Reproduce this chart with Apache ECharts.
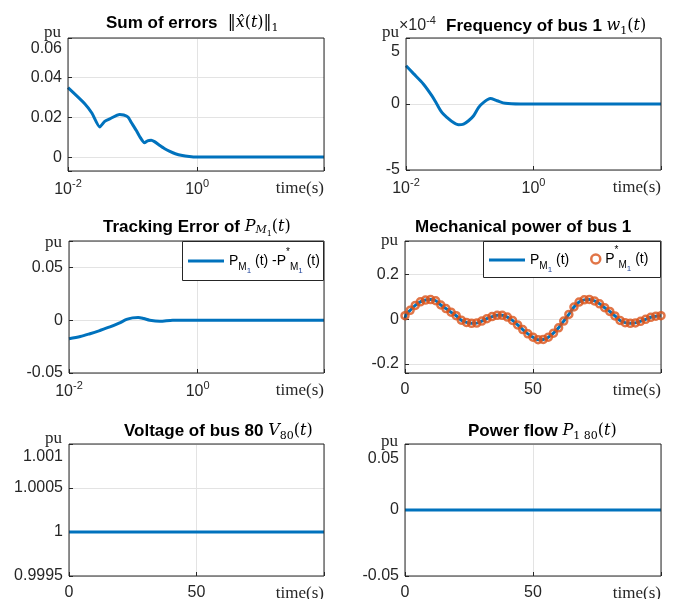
<!DOCTYPE html>
<html>
<head>
<meta charset="utf-8">
<script src="https://cdn.jsdelivr.net/npm/echarts@6/dist/echarts.min.js"></script>
<style>
  html, body { margin: 0; padding: 0; background: #fff; }
  #main { width: 673px; height: 599px; }
</style>
</head>
<body>
<div id="main"></div>
<script>
// 误差之和 ||x^(t)||_1 (对数时间轴)
var errTime = [0.01, 0.0183, 0.0234, 0.031, 0.037, 0.0443, 0.0631, 0.0728, 0.0846, 0.0966, 0.1137, 0.128, 0.153, 0.170, 0.194, 0.218, 0.26, 0.31, 0.37, 0.459, 0.59, 0.753, 0.95, 2, 10, 92]
var errValue = [0.035, 0.0268, 0.0222, 0.0152, 0.018, 0.0193, 0.0215, 0.0212, 0.0202, 0.0172, 0.0135, 0.0105, 0.0072, 0.0082, 0.0085, 0.0078, 0.006, 0.0043, 0.003, 0.0017, 0.0008, 0.0003, 0, 0, 0, 0]

// 母线1频率 w1(t), 单位 1e-4
var freqTime = [0.01, 0.013, 0.0187, 0.0254, 0.0304, 0.0365, 0.0438, 0.0525, 0.0667, 0.0799, 0.0957, 0.115, 0.138, 0.165, 0.21, 0.268, 0.362, 0.624, 1, 100]
var freqValue = [2.9, 2.32, 1.52, 0.63, 0.0, -0.64, -1.02, -1.32, -1.57, -1.52, -1.27, -0.89, -0.26, 0.12, 0.42, 0.25, 0.05, 0, 0, 0]

// 跟踪误差 P_M1 - P*_M1
var trackTime = [0.01, 0.015, 0.0212, 0.03, 0.0433, 0.06, 0.0785, 0.097, 0.119, 0.145, 0.18, 0.258, 0.41, 1, 92]
var trackValue = [-0.0176, -0.0155, -0.0128, -0.0098, -0.0064, -0.0028, 0.0007, 0.0022, 0.0026, 0.0016, 0.0, -0.001, 0, 0, 0]

// 机械功率 参考值 P*_M1 (圆圈)
var mechTime = [0, 2, 4, 6, 8, 10, 12, 14, 16, 18, 20, 22, 24, 26, 28, 30, 32, 34, 36, 38, 40, 42, 44, 46, 48, 50, 52, 54, 56, 58, 60, 62, 64, 66, 68, 70, 72, 74, 76, 78, 80, 82, 84, 86, 88, 90, 92, 94, 96, 98, 100]
var mechRef = [0.016, 0.040, 0.062, 0.078, 0.086, 0.088, 0.083, 0.064, 0.048, 0.032, 0.016, -0.004, -0.014, -0.018, -0.017, -0.008, 0.003, 0.012, 0.018, 0.018, 0.010, -0.005, -0.025, -0.046, -0.065, -0.080, -0.091, -0.090, -0.080, -0.062, -0.038, -0.008, 0.022, 0.055, 0.077, 0.087, 0.089, 0.082, 0.069, 0.052, 0.035, 0.015, -0.005, -0.015, -0.018, -0.016, -0.009, 0.000, 0.009, 0.014, 0.016]
// 机械功率 实际值 P_M1 (实线)
var mechActTime = [0, 0.4, 2, 4, 6, 8, 10, 12, 14, 16, 18, 20, 22, 24, 26, 28, 30, 32, 34, 36, 38, 40, 42, 44, 46, 48, 50, 52, 54, 56, 58, 60, 62, 64, 66, 68, 70, 72, 74, 76, 78, 80, 82, 84, 86, 88, 90, 92, 94, 96, 98, 100]
var mechAct = [-0.004, 0.020, 0.040, 0.062, 0.078, 0.086, 0.088, 0.083, 0.064, 0.048, 0.032, 0.016, -0.004, -0.014, -0.018, -0.017, -0.008, 0.003, 0.012, 0.018, 0.018, 0.010, -0.005, -0.025, -0.046, -0.065, -0.080, -0.091, -0.090, -0.080, -0.062, -0.038, -0.008, 0.022, 0.055, 0.077, 0.087, 0.089, 0.082, 0.069, 0.052, 0.035, 0.015, -0.005, -0.015, -0.018, -0.016, -0.009, 0.000, 0.009, 0.014, 0.016]

// 母线80电压 / 潮流
var voltTime = [0, 100]
var voltValue = [1, 1]
var flowTime = [0, 100]
var flowValue = [0, 0]

// 刻度标签
var logTicks = [0.01, 1]
var linTicks = [0, 50]
var errTicks = [0, 0.02, 0.04, 0.06]
var freqTicks = [-5, 0, 5]
var trackTicks = [-0.05, 0, 0.05]
var mechTicks = [-0.2, 0, 0.2]
var voltTicks = [0.9995, 1, 1.0005, 1.001]
var flowTicks = [-0.05, 0, 0.05]

var SANS = 'Liberation Sans'
var SERIF = 'Liberation Serif'
var MATH = 'DejaVu Serif'
var BLUE = '#0072BD'
var ORANGE = '#D95319'
var INK = '#262626'

function pairs(xs, ys) {
  return xs.map(function (x, i) { return [x, ys[i]] })
}

// 只显示列表中的刻度, 顶部标签下移
function tickFmt(ticks, lowTop) {
  return function (v) {
    for (var i = 0; i < ticks.length; i++) {
      if (Math.abs(v - ticks[i]) < 1e-9) {
        var s = String(ticks[i])
        return (lowTop && i === ticks.length - 1) ? '{low|' + s + '}' : s
      }
    }
    return ''
  }
}

function logFmt(ticks) {
  return function (v) {
    for (var i = 0; i < ticks.length; i++) {
      if (Math.abs(Math.log10(v) - Math.log10(ticks[i])) < 1e-6) {
        return '{b|10}{s|' + Math.round(Math.log10(ticks[i])) + '}'
      }
    }
    return ''
  }
}

var splitStyle = { show: true, lineStyle: { color: '#e3e3e3', width: 1 } }
var tickStyle = { show: true, inside: true, length: 4, lineStyle: { color: INK } }
var noLine = { show: false, onZero: false }
var timeName = {
  name: 'time(s)',
  nameLocation: 'end',
  nameGap: 0,
  nameMoveOverlap: false,
  nameTextStyle: { fontFamily: SERIF, fontSize: 17, color: INK, align: 'right', verticalAlign: 'top', padding: [9, 0, 0, 0] }
}

function xLog(grid, max) {
  return Object.assign({
    gridIndex: grid, type: 'log', logBase: 100, min: 0.01, max: max,
    axisLine: noLine, axisTick: tickStyle, splitLine: splitStyle,
    axisLabel: {
      formatter: logFmt(logTicks), margin: 7, color: INK,
      rich: {
        b: { fontFamily: SANS, fontSize: 16, color: INK, lineHeight: 24 },
        s: { fontFamily: SANS, fontSize: 11, color: INK, lineHeight: 12, verticalAlign: 'top' }
      }
    }
  }, timeName)
}

function xLin(grid) {
  return Object.assign({
    gridIndex: grid, type: 'value', min: 0, max: 100, interval: 50,
    axisLine: noLine, axisTick: tickStyle, splitLine: splitStyle,
    axisLabel: { formatter: tickFmt(linTicks), margin: 9, color: INK, fontFamily: SANS, fontSize: 16 }
  }, timeName)
}

function yAx(grid, opt, ticks, lowPad, puGap) {
  return Object.assign({
    gridIndex: grid, type: 'value',
    name: 'pu', nameLocation: 'end', nameGap: puGap,
    nameTextStyle: { fontFamily: SERIF, fontSize: 17, color: INK, align: 'right', verticalAlign: 'middle', padding: [0, 7, 0, 0] },
    axisLine: noLine, axisTick: tickStyle, splitLine: splitStyle,
    axisLabel: {
      formatter: tickFmt(ticks, lowPad > 0), margin: 6, color: INK, fontFamily: SANS, fontSize: 16,
      rich: { low: { fontFamily: SANS, fontSize: 16, color: INK, padding: [lowPad, 0, 0, 0] } }
    }
  }, opt)
}

function lineSeries(name, x, y, data, smooth) {
  return {
    name: name, type: 'line', xAxisIndex: x, yAxisIndex: y, data: data,
    symbol: 'none', smooth: smooth, lineStyle: { color: BLUE, width: 3 }, itemStyle: { color: BLUE },
    z: 2
  }
}

var titleRich = {
  b: { fontFamily: SANS, fontWeight: 'bold', fontSize: 17, color: '#000', lineHeight: 22 },
  r: { fontFamily: MATH, fontWeight: 'normal', fontSize: 16, color: '#000', lineHeight: 22 },
  i: { fontFamily: MATH, fontWeight: 'normal', fontStyle: 'italic', fontSize: 16, color: '#000', lineHeight: 22 },
  s: { fontFamily: MATH, fontWeight: 'normal', fontSize: 11, color: '#000', lineHeight: 12, verticalAlign: 'bottom' },
  si: { fontFamily: MATH, fontWeight: 'normal', fontStyle: 'italic', fontSize: 11, color: '#000', lineHeight: 14, verticalAlign: 'bottom', padding: [0, 0, 2, 0] },
  ss: { fontFamily: MATH, fontWeight: 'normal', fontSize: 8, color: '#000', lineHeight: 9, verticalAlign: 'bottom' },
  e: { fontFamily: SANS, fontWeight: 'normal', fontSize: 16, color: INK, lineHeight: 22 },
  es: { fontFamily: SANS, fontWeight: 'normal', fontSize: 11, color: INK, lineHeight: 11, verticalAlign: 'top' }
}

function title(text, left, top) {
  return { text: text, left: left, top: top, padding: 0, textStyle: { fontWeight: 'normal', rich: titleRich } }
}

var legendRich = {
  n: { fontFamily: SANS, fontSize: 14, color: '#000', lineHeight: 28 },
  sb: { fontFamily: SANS, fontSize: 10, color: '#000', lineHeight: 10, verticalAlign: 'bottom', padding: [0, 0, 3, 0] },
  sb1: { fontFamily: SANS, fontSize: 8, color: '#23479c', lineHeight: 8, verticalAlign: 'bottom' },
  sp: { fontFamily: SANS, fontSize: 10, color: '#000', lineHeight: 10, verticalAlign: 'top' }
}
var legendText = {
  'P_M1(t) - P*_M1(t)': '{n|P}{sb|M}{sb1|1}{n| (t) -P}{sp|*}{sb|M}{sb1|1}{n| (t)}',
  'P_M1(t)': '{n|P}{sb|M}{sb1|1}{n| (t)}',
  'P*_M1(t)': '{n|P}{sp|*}{sb|M}{sb1|1}{n| (t)}'
}
function legend(name, left, top, extra) {
  return Object.assign({
    data: [name], left: left, top: top, padding: 0, selectedMode: false, z: 20,
    icon: 'rect', itemWidth: 36, itemHeight: 3, itemGap: 0,
    formatter: function (n) { return legendText[n] },
    textStyle: { rich: legendRich }
  }, extra || {})
}

var chart = echarts.init(document.getElementById('main'), null, { renderer: 'canvas' })

var gridBase = { show: true, z: 3, borderColor: INK, borderWidth: 1, backgroundColor: 'transparent', containLabel: false, outerBoundsMode: 'none' }

var option = {
  animation: false,
  backgroundColor: '#fff',
  title: [
    title('{b|Sum of errors}{r|  ‖}{i|x̂}{r|(}{i|t}{r|)‖}{s|1}', 106, 12),
    title('{e|×10}{es|-4}', 399, 15),
    title('{b|Frequency of bus 1 }{i|w}{s|1}{r|(}{i|t}{r|)}', 446, 15),
    title('{b|Tracking Error of }{i|P}{si|M}{ss|1}{r|(}{i|t}{r|)}', 103, 216),
    title('{b|Mechanical power of bus 1}', 415, 216),
    title('{b|Voltage of bus 80 }{i|V}{s|80}{r|(}{i|t}{r|)}', 124, 420),
    title('{b|Power flow }{i|P}{s|1 80}{r|(}{i|t}{r|)}', 468, 420)
  ],
  grid: [
    Object.assign({ left: 68, top: 38, width: 256, height: 133 }, gridBase),
    Object.assign({ left: 406, top: 38, width: 255, height: 132 }, gridBase),
    Object.assign({ left: 69, top: 241, width: 255, height: 132 }, gridBase),
    Object.assign({ left: 405, top: 241, width: 256, height: 132 }, gridBase),
    Object.assign({ left: 69, top: 444, width: 255, height: 132 }, gridBase),
    Object.assign({ left: 405, top: 444, width: 256, height: 132 }, gridBase)
  ],
  xAxis: [
    xLog(0, 92),
    xLog(1, 100),
    xLog(2, 92),
    xLin(3),
    xLin(4),
    xLin(5)
  ],
  yAxis: [
    yAx(0, { min: -0.007, max: 0.06, minInterval: 0.02, maxInterval: 0.02 }, errTicks, 22, 5),
    yAx(1, { min: -5, max: 5, interval: 5 }, freqTicks, 28, 5),
    yAx(2, { min: -0.05, max: 0.075, interval: 0.05 }, trackTicks, 0, -2),
    yAx(3, { min: -0.24, max: 0.35, minInterval: 0.2, maxInterval: 0.2 }, mechTicks, 0, 0),
    yAx(4, { min: 0.9995, max: 1.001, interval: 0.0005 }, voltTicks, 26, 5),
    yAx(5, { min: -0.05, max: 0.05, interval: 0.05 }, flowTicks, 30, 2)
  ],
  legend: [
    legend('P_M1(t) - P*_M1(t)', 188, 247),
    legend('P_M1(t)', 489, 253),
    legend('P*_M1(t)', 590, 245, {
      icon: 'circle', itemWidth: 9, itemHeight: 9,
      itemStyle: { color: 'rgba(0,0,0,0)', borderColor: ORANGE, borderWidth: 2.5 }
    })
  ],
  graphic: [
    { type: 'rect', z: 10, shape: { x: 182.5, y: 241.5, width: 141, height: 39 }, style: { fill: '#fff', stroke: INK, lineWidth: 1 } },
    { type: 'rect', z: 10, shape: { x: 483.5, y: 241.5, width: 177, height: 36 }, style: { fill: '#fff', stroke: INK, lineWidth: 1 } }
  ],
  series: [
    lineSeries('sum of errors', 0, 0, pairs(errTime, errValue), 0.2),
    lineSeries('w1', 1, 1, pairs(freqTime, freqValue), 0.3),
    lineSeries('P_M1(t) - P*_M1(t)', 2, 2, pairs(trackTime, trackValue), 0.3),
    lineSeries('P_M1(t)', 3, 3, pairs(mechActTime, mechAct), 0.3),
    {
      name: 'P*_M1(t)', type: 'scatter', xAxisIndex: 3, yAxisIndex: 3,
      data: pairs(mechTime, mechRef),
      symbol: 'circle', symbolSize: 7, z: 3,
      itemStyle: { color: 'rgba(0,0,0,0)', borderColor: ORANGE, borderWidth: 2.5 }
    },
    lineSeries('V80', 4, 4, pairs(voltTime, voltValue), false),
    lineSeries('P1_80', 5, 5, pairs(flowTime, flowValue), false)
  ]
}

chart.setOption(option)
</script>
</body>
</html>
